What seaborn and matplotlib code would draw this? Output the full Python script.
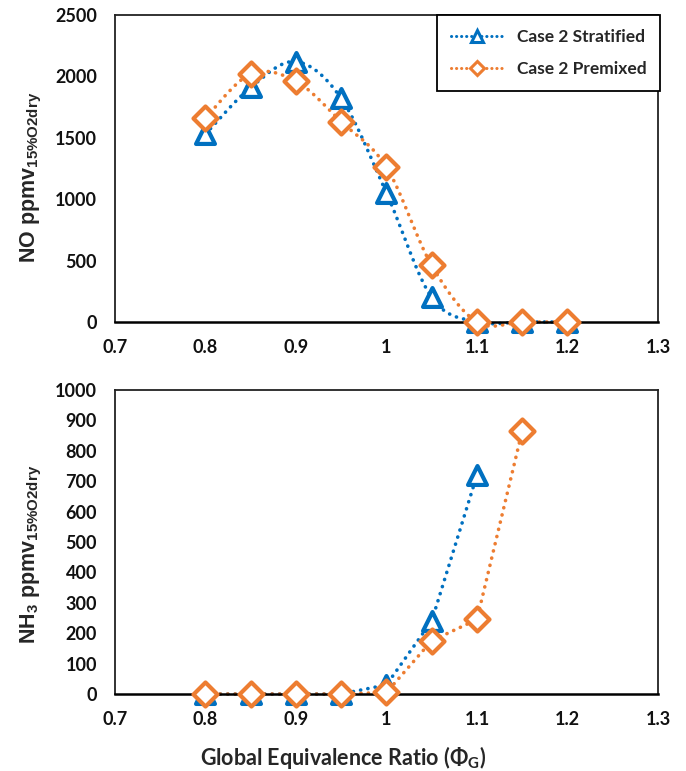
import numpy as np
import pandas as pd
import seaborn as sns
import matplotlib
matplotlib.use("Agg")
import matplotlib.pyplot as plt
from matplotlib.lines import Line2D

sns.set_theme(style="white")
plt.rcParams["font.family"] = ["Lato", "DejaVu Sans"]

# Global equivalence ratio
phi_no = [0.80, 0.85, 0.90, 0.95, 1.00, 1.05, 1.10, 1.15, 1.20]
no_stratified = [1530, 1910, 2120, 1820, 1050, 200, 0, 0, 0]
no_premixed = [1660, 2020, 1960, 1630, 1260, 460, 0, 0, 0]

phi_nh3_strat = [0.80, 0.85, 0.90, 0.95, 1.00, 1.05, 1.10]
nh3_stratified = [0, 0, 0, 0, 30, 240, 720]
phi_nh3_prem = [0.80, 0.85, 0.90, 0.95, 1.00, 1.05, 1.10, 1.15]
nh3_premixed = [0, 0, 0, 0, 5, 175, 245, 865]

labels = ["Case 2 Stratified", "Case 2 Premixed"]
x_ticks = [0.7, 0.8, 0.9, 1.0, 1.1, 1.2, 1.3]
x_ticklabels = ["0.7", "0.8", "0.9", "1", "1.1", "1.2", "1.3"]

BLUE = "#0070C0"
ORANGE = "#ED7D31"


def smooth_curve(x, y, n=30):
    """Catmull-Rom style Bezier smoothing through the points (spreadsheet-like)."""
    x = np.asarray(x, float)
    y = np.asarray(y, float)
    px = np.concatenate([[x[0]], x, [x[-1]]])
    py = np.concatenate([[y[0]], y, [y[-1]]])
    xs, ys = [], []
    t = np.linspace(0, 1, n)
    for i in range(1, len(px) - 2):
        p0 = np.array([px[i - 1], py[i - 1]])
        p1 = np.array([px[i], py[i]])
        p2 = np.array([px[i + 1], py[i + 1]])
        p3 = np.array([px[i + 2], py[i + 2]])
        c1 = p1 + (p2 - p0) / 6.0
        c2 = p2 - (p3 - p1) / 6.0
        b = (np.outer((1 - t) ** 3, p1) + np.outer(3 * (1 - t) ** 2 * t, c1)
             + np.outer(3 * (1 - t) * t ** 2, c2) + np.outer(t ** 3, p2))
        xs.extend(b[:, 0])
        ys.extend(b[:, 1])
    return pd.DataFrame({"x": xs, "y": ys})


DOT = (0, (0.05, 2.0))


def draw_series(ax, x, y, color, marker, smooth):
    if smooth:
        curve = smooth_curve(x, y)
    else:
        curve = pd.DataFrame({"x": x, "y": y})
    sns.lineplot(data=curve, x="x", y="y", ax=ax, sort=False, color=color,
                 linewidth=2.6, linestyle=DOT, dash_capstyle="round",
                 estimator=None, zorder=2)
    pts = pd.DataFrame({"x": x, "y": y})
    size = 185 if marker == "^" else 150
    sns.scatterplot(data=pts, x="x", y="y", ax=ax, marker=marker, s=size,
                    facecolor="white", edgecolor=color, linewidth=3.0, zorder=3)


fig = plt.figure(figsize=(6.86, 7.71), dpi=100)
ax1 = fig.add_axes([0.1676, 0.5824, 0.7915, 0.3982])
ax2 = fig.add_axes([0.1676, 0.0999, 0.7915, 0.3943])

draw_series(ax1, phi_no, no_stratified, BLUE, "^", True)
draw_series(ax1, phi_no, no_premixed, ORANGE, "D", True)
draw_series(ax2, phi_nh3_strat, nh3_stratified, BLUE, "^", False)
draw_series(ax2, phi_nh3_prem, nh3_premixed, ORANGE, "D", False)

tick_font = dict(family=["Lato", "DejaVu Sans"], weight="bold", size=13)

for ax, ymax, ystep in [(ax1, 2500, 500), (ax2, 1000, 100)]:
    ax.set_xlim(0.7, 1.3)
    ax.set_ylim(0, ymax)
    ax.set_xticks(x_ticks)
    ax.set_xticklabels(x_ticklabels, **tick_font)
    yt = np.arange(0, ymax + 1, ystep)
    ax.set_yticks(yt)
    ax.set_yticklabels([str(v) for v in yt], **tick_font)
    ax.tick_params(axis="both", length=0, pad=12, colors="#111111")
    ax.tick_params(axis="y", pad=13)
    ax.set_xlabel("")
    ax.set_ylabel("")
    for sp in ax.spines.values():
        sp.set_color("#222222")
        sp.set_linewidth(1.3)
    ax.spines["bottom"].set_color("black")
    ax.spines["bottom"].set_linewidth(1.8)
    ax.grid(False)
    for c in ax.collections:
        c.set_clip_on(False)
    for l in ax.lines:
        l.set_clip_on(False)

ylabel_font = dict(family=["Liberation Sans", "DejaVu Sans"], weight="bold", size=15.5)
ax1.set_ylabel(r"NO ppmv$_{\mathregular{15\%O2dry}}$", **ylabel_font)
ax2.set_ylabel(r"NH$_{\mathregular{3}}$ ppmv$_{\mathregular{15\%O2dry}}$", **ylabel_font)
ax1.yaxis.set_label_coords(-0.13, 0.47)
ax2.yaxis.set_label_coords(-0.13, 0.46)

ax2.set_xlabel(r"Global Equivalence Ratio ($\mathregular{\Phi}_{\mathregular{G}}$)",
               family=["Lato", "DejaVu Sans"], weight="bold", size=15.5)
ax2.xaxis.set_label_coords(0.42, -0.165)

handles = [
    Line2D([], [], color=BLUE, linestyle=(0, (0.05, 1.6)), linewidth=2.2,
           dash_capstyle="round", marker="^", markersize=8, markerfacecolor="white",
           markeredgecolor=BLUE, markeredgewidth=2.2),
    Line2D([], [], color=ORANGE, linestyle=(0, (0.05, 1.6)), linewidth=2.2,
           dash_capstyle="round", marker="D", markersize=7, markerfacecolor="white",
           markeredgecolor=ORANGE, markeredgewidth=2.2),
]
leg = ax1.legend(handles, labels, loc="upper right", bbox_to_anchor=(1.004, 1.0),
                 frameon=True, fancybox=False, edgecolor="black", framealpha=1,
                 handlelength=3.0, handletextpad=0.8, labelspacing=0.95,
                 borderpad=0.8, borderaxespad=0,
                 prop=dict(family=["Lato", "DejaVu Sans"], weight="bold", size=12.5))
leg.get_frame().set_linewidth(1.3)

fig.savefig("out.png", dpi=100, facecolor="white")
